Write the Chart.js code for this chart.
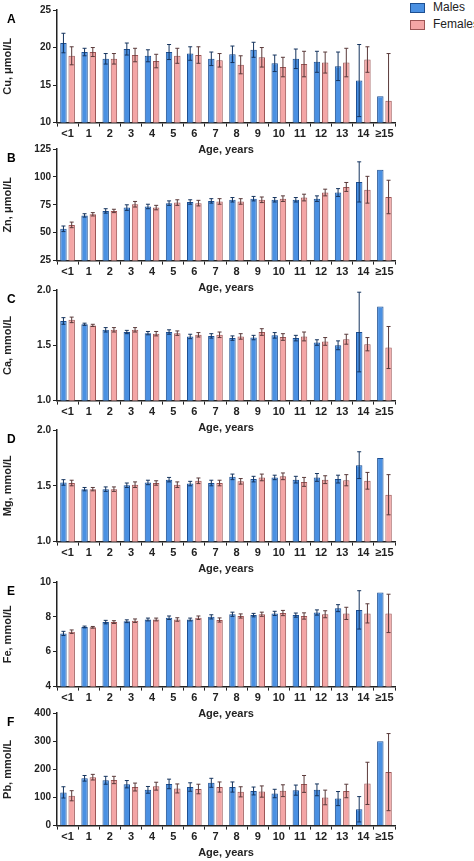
<!DOCTYPE html>
<html>
<head>
<meta charset="utf-8">
<script src="https://cdn.jsdelivr.net/npm/chart.js@4"></script>
<style>
  body { margin: 0; background: #fff; font-family: Arial, "Liberation Sans", sans-serif; }
  #wrap { position: relative; width: 474px; height: 861px; }
  .panel { position: absolute; left: 0; width: 400px; }
  .letter { position: absolute; left: 7px; font-weight: bold; font-size: 12px; }
  .legend { position: absolute; left: 410px; font-size: 12px; color: #222; white-space: nowrap; }
  .legend span { display: inline-block; width: 13px; height: 8px; margin-right: 8px; vertical-align: middle; }
</style>
</head>
<body>
<div id="wrap">
  <div class="legend" style="top:0px"><span style="background:#4a90e2;border:1px solid #1d4f91"></span>Males</div>
  <div class="legend" style="top:17px"><span style="background:#f4a6a6;border:1px solid #9c5555"></span>Females</div>
</div>
<script>
const ages = ["<1", "1", "2", "3", "4", "5", "6", "7", "8", "9", "10", "11", "12", "13", "14", "≥15"];

const cuMales = [20.6, 19.4, 18.5, 19.8, 18.9, 19.4, 19.2, 18.5, 19.1, 19.7, 17.9, 18.5, 18.1, 17.5, 15.6, 13.5];
const cuMalesErr = [1.3, 0.5, 0.7, 0.8, 0.8, 1.0, 0.9, 0.9, 1.1, 1.0, 1.1, 1.3, 1.4, 1.9, 4.8, 0];
const cuFemales = [18.9, 19.4, 18.5, 19.0, 18.2, 18.9, 19.0, 18.3, 17.7, 18.7, 17.4, 17.8, 18.0, 18.0, 18.4, 12.9];
const cuFemalesErr = [1.2, 0.6, 0.7, 0.9, 0.9, 1.0, 1.1, 0.9, 1.2, 1.3, 1.3, 1.7, 1.4, 1.9, 1.7, 6.3];

const znMales = [53.5, 65.5, 69.5, 72.5, 73.5, 76.5, 77.5, 78.5, 79.5, 80.5, 79.5, 79.5, 80.5, 86, 95.5, 106.5];
const znMalesErr = [2.5, 1.5, 2, 2.5, 2, 2, 2, 2, 2, 2, 2, 2, 2.5, 3.5, 18, 0];
const znFemales = [57, 66.5, 69.5, 75.5, 72.5, 77, 76.5, 78, 78, 79.5, 80.5, 81.5, 86, 91, 88.5, 82];
const znFemalesErr = [2.5, 1.5, 1.5, 2.5, 2, 2.5, 2.5, 2.5, 2.5, 2.5, 2.5, 3, 3, 4, 12, 15];

const caMales = [1.72, 1.69, 1.64, 1.62, 1.61, 1.62, 1.58, 1.585, 1.565, 1.57, 1.59, 1.565, 1.525, 1.50, 1.62, 1.85];
const caMalesErr = [0.03, 0.01, 0.02, 0.015, 0.015, 0.02, 0.02, 0.02, 0.02, 0.02, 0.025, 0.025, 0.025, 0.04, 0.36, 0];
const caFemales = [1.73, 1.68, 1.64, 1.64, 1.605, 1.61, 1.595, 1.595, 1.58, 1.62, 1.575, 1.58, 1.535, 1.555, 1.51, 1.48];
const caFemalesErr = [0.025, 0.01, 0.02, 0.02, 0.02, 0.02, 0.02, 0.025, 0.025, 0.03, 0.03, 0.04, 0.035, 0.045, 0.06, 0.19];

const mgMales = [1.53, 1.47, 1.47, 1.505, 1.53, 1.555, 1.52, 1.525, 1.58, 1.56, 1.575, 1.555, 1.575, 1.56, 1.685, 1.75];
const mgMalesErr = [0.025, 0.015, 0.02, 0.02, 0.02, 0.02, 0.02, 0.025, 0.025, 0.025, 0.02, 0.03, 0.035, 0.035, 0.12, 0];
const mgFemales = [1.525, 1.47, 1.47, 1.51, 1.525, 1.51, 1.545, 1.525, 1.54, 1.575, 1.585, 1.535, 1.555, 1.55, 1.545, 1.42];
const mgFemalesErr = [0.025, 0.015, 0.02, 0.025, 0.02, 0.025, 0.025, 0.025, 0.025, 0.03, 0.03, 0.04, 0.035, 0.05, 0.075, 0.18];

const feMales = [7.05, 7.42, 7.7, 7.75, 7.85, 7.95, 7.85, 8.0, 8.15, 8.1, 8.2, 8.1, 8.25, 8.5, 8.4, 9.4];
const feMalesErr = [0.12, 0.05, 0.1, 0.08, 0.08, 0.1, 0.08, 0.12, 0.12, 0.1, 0.12, 0.12, 0.15, 0.2, 1.1, 0];
const feFemales = [7.15, 7.4, 7.7, 7.78, 7.85, 7.85, 7.95, 7.82, 8.05, 8.15, 8.22, 8.05, 8.15, 8.2, 8.2, 8.2];
const feFemalesErr = [0.1, 0.05, 0.08, 0.1, 0.08, 0.1, 0.1, 0.12, 0.12, 0.12, 0.15, 0.18, 0.2, 0.35, 0.55, 1.1];

const pbMales = [118, 168, 161, 147, 127, 148, 137, 152, 137, 123, 114, 126, 127, 96, 58, 300];
const pbMalesErr = [20, 10, 14, 13, 12, 17, 15, 16, 18, 14, 15, 18, 21, 25, 45, 0];
const pbFemales = [106, 172, 162, 137, 140, 132, 130, 137, 120, 121, 124, 148, 100, 123, 150, 190];
const pbFemalesErr = [18, 10, 13, 14, 14, 16, 17, 18, 18, 20, 21, 30, 26, 24, 75, 137];

// error bars: mean +/- error, drawn through the y scale
const errorBars = {
    id: "errorBars",
    afterDatasetsDraw(chart) {
        const ctx = chart.ctx;
        const yScale = chart.scales.y;
        chart.data.datasets.forEach((ds, di) => {
            const meta = chart.getDatasetMeta(di);
            meta.data.forEach((bar, i) => {
                const e = ds.errors[i];
                if (!e) return;
                const v = ds.data[i];
                const top = yScale.getPixelForValue(v + e);
                const bottom = Math.min(yScale.getPixelForValue(v - e), yScale.bottom);
                ctx.save();
                ctx.strokeStyle = ds.errorColor;
                ctx.lineWidth = 1;
                ctx.beginPath();
                ctx.moveTo(bar.x, top);
                ctx.lineTo(bar.x, bottom);
                ctx.moveTo(bar.x - 2, top);
                ctx.lineTo(bar.x + 2, top);
                if (bottom < yScale.bottom) {
                    ctx.moveTo(bar.x - 2, bottom);
                    ctx.lineTo(bar.x + 2, bottom);
                }
                ctx.stroke();
                ctx.restore();
            });
        });
    }
};

function makePanel(letter, plotTop, plotH, label, males, malesErr, females, femalesErr, min, max, step) {
    const wrap = document.getElementById("wrap");
    const div = document.createElement("div");
    div.className = "panel";
    div.style.top = (plotTop - 8) + "px";
    div.style.height = (plotH + 43) + "px";
    const canvas = document.createElement("canvas");
    div.appendChild(canvas);
    wrap.appendChild(div);

    const l = document.createElement("div");
    l.className = "letter";
    l.textContent = letter;
    l.style.top = (plotTop + 2) + "px";
    wrap.appendChild(l);

    const font = {family: "Arial, 'Liberation Sans'", size: 10, weight: "bold"};
    new Chart(canvas, {
        type: "bar",
        data: {
            labels: ages,
            datasets: [
                {label: "Males", data: males, errors: malesErr, errorColor: "#15345e",
                 backgroundColor: "#4a90e2", borderColor: "#1d4f91", borderWidth: 1},
                {label: "Females", data: females, errors: femalesErr, errorColor: "#5a3a3a",
                 backgroundColor: "#f4a6a6", borderColor: "#9c5555", borderWidth: 1}
            ]
        },
        options: {
            responsive: true,
            maintainAspectRatio: false,
            animation: false,
            layout: {padding: {top: 2, right: 5, bottom: 0, left: 0}},
            categoryPercentage: 0.78,
            barPercentage: 0.78,
            plugins: {legend: {display: false}, tooltip: {enabled: false}},
            scales: {
                x: {
                    grid: {display: true, drawOnChartArea: false, tickLength: 4, color: "#222"},
                    border: {color: "#222", width: 1.5},
                    ticks: {color: "#222", font: {...font, size: 11}, padding: 1, maxRotation: 0, autoSkip: false},
                    title: {display: true, text: "Age, years", color: "#222", font: {...font, size: 11}, padding: {top: 2, bottom: 0}}
                },
                y: {
                    min: min, max: max,
                    afterFit: (s) => { s.width = 57; },
                    grid: {display: true, drawOnChartArea: false, tickLength: 4, color: "#222"},
                    border: {color: "#222", width: 1.5},
                    ticks: {stepSize: step, color: "#222", font: font, padding: 2,
                            callback: (v) => (step < 1 ? v.toFixed(1) : v)},
                    title: {display: true, text: label, color: "#222", font: {...font, size: 11}, padding: 1}
                }
            }
        },
        plugins: [errorBars]
    });
}

makePanel("A", 10, 112, "Cu, μmol/L", cuMales, cuMalesErr, cuFemales, cuFemalesErr, 10, 25, 5);
makePanel("B", 149, 111, "Zn, μmol/L", znMales, znMalesErr, znFemales, znFemalesErr, 25, 125, 25);
makePanel("C", 290, 110, "Ca, mmol/L", caMales, caMalesErr, caFemales, caFemalesErr, 1.0, 2.0, 0.5);
makePanel("D", 430, 111, "Mg, mmol/L", mgMales, mgMalesErr, mgFemales, mgFemalesErr, 1.0, 2.0, 0.5);
makePanel("E", 582, 104, "Fe, mmol/L", feMales, feMalesErr, feFemales, feFemalesErr, 4, 10, 2);
makePanel("F", 713, 112, "Pb, mmol/L", pbMales, pbMalesErr, pbFemales, pbFemalesErr, 0, 400, 100);
</script>
</body>
</html>
